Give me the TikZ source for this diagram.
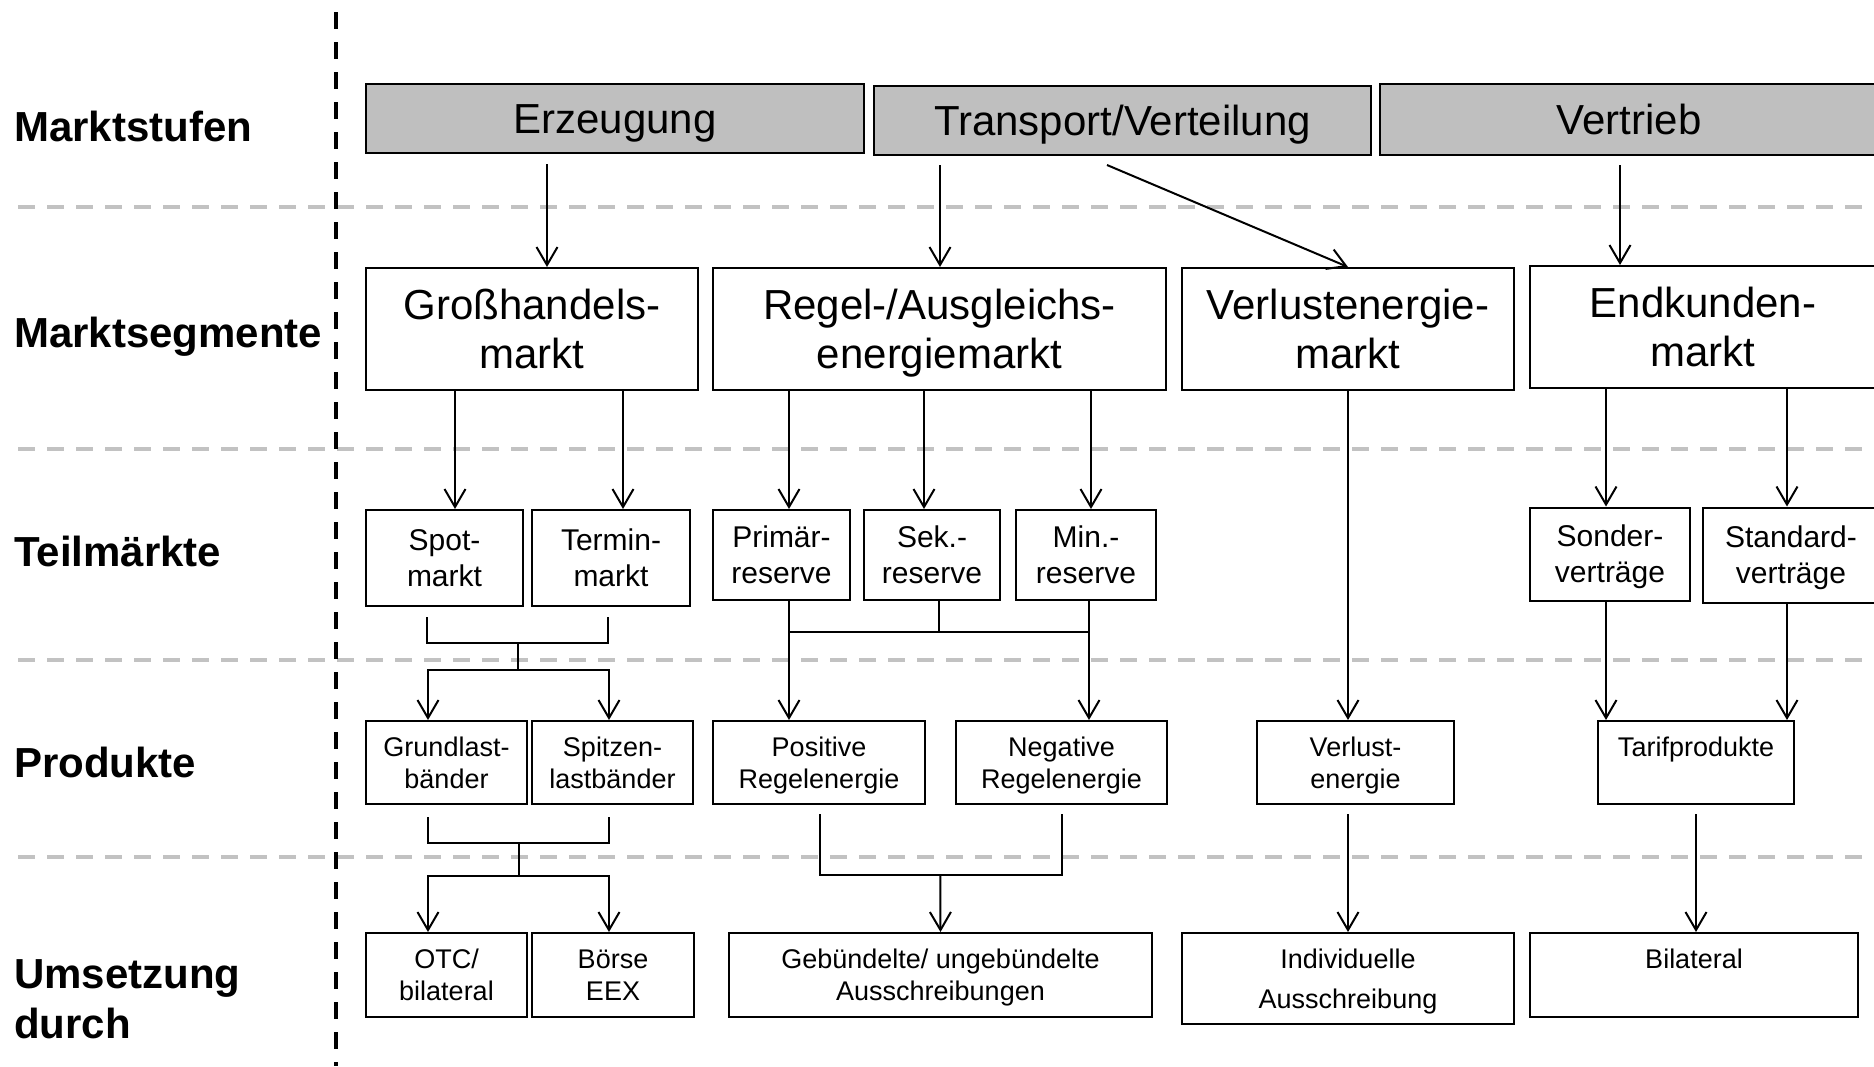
\documentclass[tikz,border=0pt]{standalone}
\usepackage{fontspec}
\setmainfont{Liberation Sans}
\usetikzlibrary{arrows.meta,calc,positioning}
\definecolor{stufengrau}{RGB}{191,191,191}
\definecolor{trenngrau}{RGB}{194,194,194}

\tikzset{
  kasten/.style={draw, line width=2pt, align=center, inner sep=0pt, text depth=0pt},
  stufe/.style={kasten, fill=stufengrau, minimum height=69pt, text height=30pt, font=\fontsize{42}{50}\selectfont},
  segment/.style={kasten, minimum height=122pt, font=\fontsize{42}{49}\selectfont},
  teil/.style={kasten, font=\fontsize{30}{36}\selectfont},
  produkt/.style={kasten, minimum height=83pt, font=\fontsize{27}{32}\selectfont},
  ebene/.style={anchor=base west, inner sep=0pt, font=\fontsize{42}{50}\selectfont\bfseries},
  pfeil/.style={line width=2pt, -{Straight Barb[length=18pt,width=21pt,line width=2pt]}},
  linie/.style={line width=2pt},
  trenner/.style={trenngrau, line width=4pt, dash pattern=on 17pt off 12pt}
}

\begin{document}
\begin{tikzpicture}[x=1pt,y=-1pt]
  \useasboundingbox (0,0) rectangle (1874,1066);
  \clip (0,0) rectangle (1874,1066);

  % Trennlinien
  \foreach \y in {207,449,660,857}
    \draw[trenner] (18,\y) -- (1874,\y);
  \draw[line width=3.5pt, dash pattern=on 17pt off 13pt] (336,12) -- (336,1066);

  % Ebenen
  \node[ebene] (lstufen) at (14,141) {Marktstufen};
  \node[ebene] (lsegmente) at (14,347) {Marktsegmente};
  \node[ebene] (lteil) at (14,566) {Teilmärkte};
  \node[ebene] (lprodukte) at (14,777) {Produkte};
  \node[ebene, align=left, anchor=north west] (lumsetzung) at (14,959) {Umsetzung\\durch};

  % Marktstufen
  \node[stufe, minimum width=498pt] (erz) at (615,118.5) {Erzeugung};
  \node[stufe, minimum width=497pt] (tv) at (1122.5,120.5) {Transport/Verteilung};
  \node[stufe, minimum width=498pt, minimum height=71pt] (vt) at (1629,119.5) {Vertrieb};

  % Marktsegmente
  \node[segment, minimum width=332pt] (gross) at (532,329) {Großhandels-\\markt};
  \node[segment, minimum width=453pt] (regel) at (939.5,329) {Regel-/Ausgleichs-\\energiemarkt};
  \node[segment, minimum width=332pt] (verl) at (1348,329) {Verlustenergie-\\markt};
  \node[segment, minimum width=346pt] (endk) at (1703,327) {Endkunden-\\markt};

  % Teilmaerkte
  \node[teil, minimum width=157pt, minimum height=96pt] (spot) at (444.5,558) {Spot-\\markt};
  \node[teil, minimum width=158pt, minimum height=96pt] (term) at (611,558) {Termin-\\markt};
  \node[teil, minimum width=137pt, minimum height=90pt] (prim) at (781.5,555) {Primär-\\reserve};
  \node[teil, minimum width=136pt, minimum height=90pt] (sek) at (932,555) {Sek.-\\reserve};
  \node[teil, minimum width=140pt, minimum height=90pt] (min) at (1086,555) {Min.-\\reserve};
  \node[teil, minimum width=160pt, minimum height=93pt] (sond) at (1610,554) {Sonder-\\verträge};
  \node[teil, minimum width=176pt, minimum height=95pt] (stand) at (1791,555) {Standard-\\verträge};

  % Produkte
  \node[produkt, minimum width=161pt] (grund) at (446.5,762.5) {Grundlast-\\bänder};
  \node[produkt, minimum width=161pt] (spitz) at (612.5,762.5) {Spitzen-\\lastbänder};
  \node[produkt, minimum width=212pt] (pos) at (819,762.5) {Positive\\Regelenergie};
  \node[produkt, minimum width=211pt] (neg) at (1061.5,762.5) {Negative\\Regelenergie};
  \node[produkt, minimum width=197pt] (verlE) at (1355.5,762.5) {Verlust-\\energie};
  \node[produkt, minimum width=196pt] (tarif) at (1696,762.5) {Tarifprodukte\\\strut};

  % Umsetzung
  \node[produkt, minimum width=161pt, minimum height=84pt] (otc) at (446.5,975) {OTC/\\bilateral};
  \node[produkt, minimum width=162pt, minimum height=84pt] (boerse) at (613,975) {Börse\\EEX};
  \node[produkt, minimum width=423pt, minimum height=84pt] (geb) at (940.5,975) {Gebündelte/ ungebündelte\\Ausschreibungen};
  \node[produkt, minimum width=332pt, minimum height=91pt] (indiv) at (1348,978.5) {Individuelle\\[8pt]Ausschreibung};
  \node[produkt, minimum width=328pt, minimum height=84pt] (bilat) at (1694,975) {Bilateral\\\strut};

  % Stufen -> Segmente
  \draw[pfeil] ($(erz.south)+(-68,10)$) -- ($(gross.north)+(15,0)$);
  \draw[pfeil] ($(tv.south)+(-182.5,9)$) -- ($(regel.north)+(0.5,0)$);
  \draw[pfeil] ($(tv.south)+(-15.5,9)$) -- (verl.north);
  \draw[pfeil] ($(vt.south)+(-9,9)$) -- ($(endk.north)+(-83,0)$);

  % Segmente -> Teilmaerkte
  \draw[pfeil] ($(gross.south)+(-77,0)$) -- ($(spot.north)+(10.5,0)$);
  \draw[pfeil] ($(gross.south)+(91,0)$) -- ($(term.north)+(12,0)$);
  \draw[pfeil] ($(regel.south)+(-150.5,0)$) -- ($(prim.north)+(7.5,0)$);
  \draw[pfeil] ($(regel.south)+(-15.5,0)$) -- ($(sek.north)+(-8,0)$);
  \draw[pfeil] ($(regel.south)+(151.5,0)$) -- ($(min.north)+(5,0)$);
  \draw[pfeil] ($(endk.south)+(-97,0)$) -- ($(sond.north)+(-4,0)$);
  \draw[pfeil] ($(endk.south)+(84,0)$) -- ($(stand.north)+(-4,0)$);
  \draw[pfeil] (verl.south) -- ($(verlE.north)+(-7.5,0)$);

  % Teilmaerkte -> Produkte
  \draw[linie] ($(spot.south)+(-17.5,10)$) |- ($(term.south)+(-3,36)$) -- ($(term.south)+(-3,10)$);
  \coordinate (v1) at ($(spot.south)!.5!(term.south)+(-10.25,63)$);
  \draw[linie] ($(v1)+(0,-27)$) -- (v1);
  \draw[pfeil] (v1) -| ($(grund.north)+(-18.5,0)$);
  \draw[pfeil] (v1) -| ($(spitz.north)+(-3.5,0)$);

  \draw[pfeil] ($(prim.south)+(7.5,0)$) -- ($(pos.north)+(-30,0)$);
  \draw[pfeil] ($(min.south)+(3,0)$) -- ($(neg.north)+(27.5,0)$);
  \draw[linie] ($(sek.south)+(7,0)$) -- ++(0,30.5);
  \draw[linie] ($(prim.south)+(7.5,30.5)$) -- ($(min.south)+(3,30.5)$);

  \draw[pfeil] ($(sond.south)+(-4,0)$) -- ($(tarif.north)+(-90,0)$);
  \draw[pfeil] ($(stand.south)+(-4,0)$) -- ($(tarif.north)+(91,0)$);

  % Produkte -> Umsetzung
  \draw[linie] ($(grund.south)+(-18.5,12)$) |- ($(spitz.south)+(-3.5,38)$) -- ($(spitz.south)+(-3.5,12)$);
  \coordinate (v2) at ($(grund.south)!.5!(spitz.south)+(-10.5,71)$);
  \draw[linie] ($(v2)+(0,-33)$) -- (v2);
  \draw[pfeil] (v2) -| ($(otc.north)+(-18.5,0)$);
  \draw[pfeil] (v2) -| ($(boerse.north)+(-4,0)$);

  \draw[linie] ($(pos.south)+(1,9)$) |- ($(neg.south)+(0,70)$) -- ($(neg.south)+(0,9)$);
  \draw[pfeil] ($(pos.south)!.5!(neg.south)+(0,70)$) -- (geb.north);

  \draw[pfeil] ($(verlE.south)+(-7.5,9)$) -- (indiv.north);
  \draw[pfeil] ($(tarif.south)+(0,9)$) -- (tarif.south |- bilat.north);
\end{tikzpicture}
\end{document}
